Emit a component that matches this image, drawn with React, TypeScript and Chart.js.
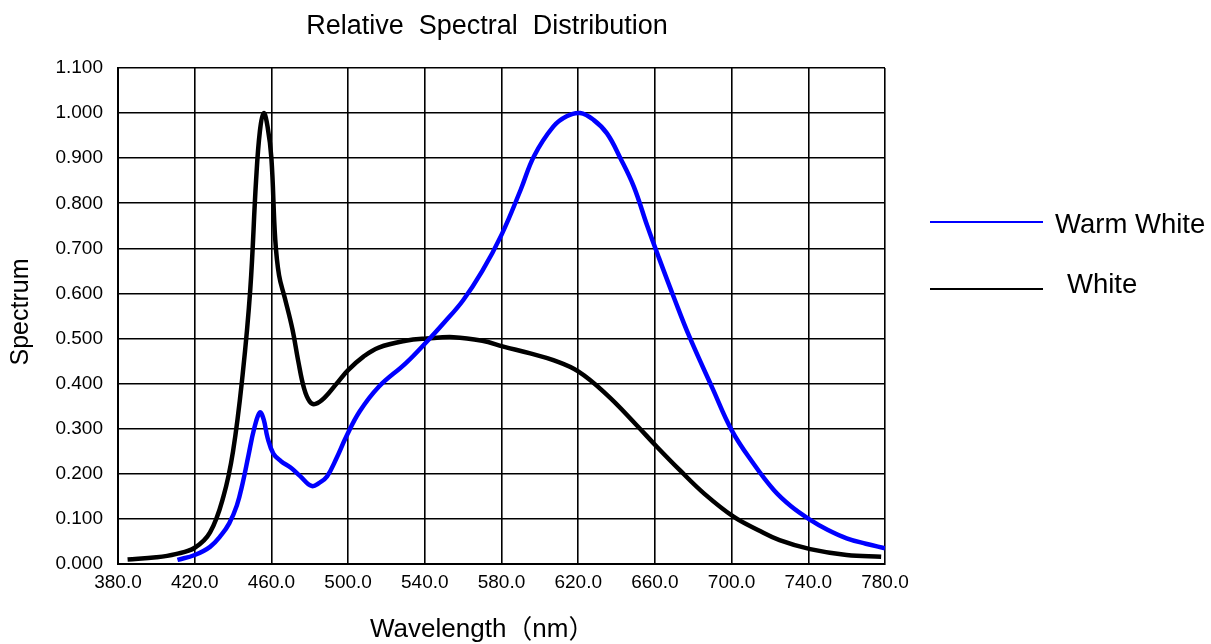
import React, { useEffect, useRef } from "react";
import { Chart, registerables } from "chart.js";

Chart.register(...registerables);

const chartTitle = "Relative  Spectral  Distribution";
const xAxisTitleParts = ["Wavelength", "（", "nm", "）"];
const yAxisTitle = "Spectrum";

const warmWhiteNm = [411, 420, 428, 434, 438, 442, 445, 448, 451, 454, 456, 458, 461, 465, 470, 475, 481, 485, 489, 494, 499, 506, 516, 530, 541, 550, 560, 570, 580, 590, 597, 607, 614, 621, 628, 635, 642, 649, 656, 662, 670, 678, 690, 700, 711, 722, 731, 741, 750, 760, 770, 780];
const warmWhiteVal = [0.009, 0.02, 0.038, 0.065, 0.09, 0.13, 0.179, 0.24, 0.3, 0.336, 0.32, 0.28, 0.245, 0.228, 0.214, 0.195, 0.173, 0.18, 0.194, 0.235, 0.282, 0.338, 0.393, 0.445, 0.493, 0.535, 0.585, 0.65, 0.73, 0.83, 0.905, 0.97, 0.993, 1.0, 0.985, 0.955, 0.9, 0.837, 0.75, 0.68, 0.59, 0.504, 0.39, 0.297, 0.225, 0.164, 0.128, 0.098, 0.076, 0.057, 0.045, 0.035];

const whiteNm = [385, 400, 410, 420, 428, 435, 440, 445, 449, 452, 454, 456, 458, 460, 462, 464, 467, 471, 474, 477, 480, 483, 488, 494, 500, 508, 516, 530, 541, 555, 570, 581, 595, 607, 620, 635, 650, 661, 673, 686, 701, 714, 725, 741, 760, 778];
const whiteVal = [0.01, 0.015, 0.022, 0.036, 0.07, 0.15, 0.25, 0.42, 0.61, 0.85, 0.96, 1.0, 0.97, 0.9, 0.72, 0.64, 0.59, 0.52, 0.45, 0.39, 0.36, 0.355, 0.37, 0.4, 0.43, 0.46, 0.48, 0.495, 0.5, 0.503, 0.495, 0.482, 0.467, 0.452, 0.427, 0.375, 0.31, 0.26, 0.208, 0.155, 0.105, 0.075, 0.053, 0.033, 0.02, 0.016];

const seriesNames = ["Warm White", "White"];
const seriesColors = ["#0000ff", "#000000"];

const FONT = "'Liberation Sans', Arial, sans-serif";
const CJK = "'Noto Sans CJK SC', sans-serif";

const toPoints = (xs: number[], ys: number[]) => xs.map((x, i) => ({ x, y: ys[i] }));

const overlayPlugin = {
  id: "overlay",
  afterDraw(chart: any) {
    const ctx = chart.ctx;
    ctx.save();
    ctx.fillStyle = "#000";
    ctx.textBaseline = "middle";
    ctx.textAlign = "center";
    ctx.font = `27px ${FONT}`;
    ctx.fillText(chartTitle, 487, 27);

    // x axis title (parentheses are full-width)
    ctx.textAlign = "left";
    let x = 370;
    xAxisTitleParts.forEach((part, i) => {
      ctx.font = i % 2 === 1 ? `26px ${CJK}` : `26px ${FONT}`;
      ctx.fillText(part, x, i % 2 === 1 ? 628 : 630);
      x += ctx.measureText(part).width;
    });

    ctx.save();
    ctx.translate(21, 312);
    ctx.rotate(-Math.PI / 2);
    ctx.textAlign = "center";
    ctx.font = `25px ${FONT}`;
    ctx.fillText(yAxisTitle, 0, 0);
    ctx.restore();

    // legend
    const legendY = [222, 289];
    const textY = [225, 285];
    const legendTextX = [1055, 1067];
    seriesNames.forEach((name, i) => {
      ctx.strokeStyle = seriesColors[i];
      ctx.lineWidth = 2;
      ctx.beginPath();
      ctx.moveTo(930, legendY[i]);
      ctx.lineTo(1043, legendY[i]);
      ctx.stroke();
      ctx.textAlign = "left";
      ctx.fillStyle = "#000";
      ctx.font = `27.5px ${FONT}`;
      ctx.fillText(name, legendTextX[i], textY[i]);
    });
    ctx.restore();
  },
};

export default function App() {
  const ref = useRef<HTMLCanvasElement | null>(null);
  useEffect(() => {
    if (!ref.current) return;
    const chart = new Chart(ref.current, {
      type: "line",
      data: {
        datasets: [
          {
            label: seriesNames[0],
            data: toPoints(warmWhiteNm, warmWhiteVal),
            borderColor: seriesColors[0],
            borderWidth: 4.5,
            pointRadius: 0,
            tension: 0.4,
            fill: false,
          },
          {
            label: seriesNames[1],
            data: toPoints(whiteNm, whiteVal),
            borderColor: seriesColors[1],
            borderWidth: 4.5,
            pointRadius: 0,
            tension: 0.4,
            fill: false,
          },
        ],
      },
      options: {
        animation: false,
        responsive: false,
        events: [],
        layout: { padding: { left: 0, top: 68, right: 326, bottom: 0 } },
        plugins: { legend: { display: false }, tooltip: { enabled: false }, title: { display: false } },
        scales: {
          x: {
            type: "linear",
            min: 380,
            max: 780,
            afterFit: (s: any) => { s.height = 80; },
            afterBuildTicks: (s: any) => {
              const t = [];
              for (let v = 380; v <= 780; v += 40) t.push({ value: v });
              s.ticks = t;
            },
            ticks: {
              color: "#000",
              font: { family: FONT, size: 19 },
              padding: 7,
              maxRotation: 0,
              autoSkip: false,
              callback: (v: any) => Number(v).toFixed(1),
            },
            grid: { color: "#000", lineWidth: 1.6, drawTicks: false },
            border: { color: "#000", width: 2 },
          },
          y: {
            type: "linear",
            min: 0,
            max: 1.1,
            afterFit: (s: any) => { s.width = 118; },
            afterBuildTicks: (s: any) => {
              const t = [];
              for (let i = 0; i <= 11; i++) t.push({ value: i / 10 });
              s.ticks = t;
            },
            ticks: {
              color: "#000",
              font: { family: FONT, size: 19 },
              padding: 15,
              autoSkip: false,
              callback: (v: any) => Number(v).toFixed(3),
            },
            grid: { color: "#000", lineWidth: 1.6, drawTicks: false },
            border: { color: "#000", width: 2 },
          },
        },
      },
      plugins: [overlayPlugin],
    } as any);
    return () => chart.destroy();
  }, []);
  return (
    <div style={{ position: "fixed", left: 0, top: 0, width: 1211, height: 644, background: "#fff" }}>
      <canvas ref={ref} width={1211} height={644} style={{ display: "block" }} />
    </div>
  );
}
